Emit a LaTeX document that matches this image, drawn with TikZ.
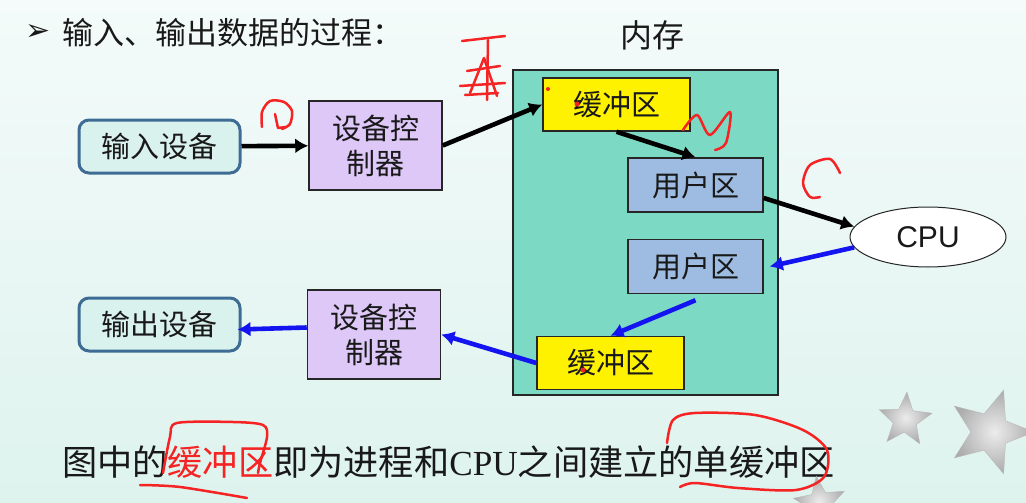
\documentclass[tikz,border=0pt]{standalone}
\usepackage{fontspec}
\setmainfont{Liberation Serif}
\newfontfamily\cjk{Noto Sans CJK SC}
\newfontfamily\arial{Liberation Sans}
\newfontfamily\symb{DejaVu Sans}
\usetikzlibrary{arrows.meta,positioning,shapes.geometric}
\definecolor{bgtop}{RGB}{244,251,250}
\definecolor{bgbottom}{RGB}{222,243,238}
\definecolor{memgreen}{RGB}{124,218,196}
\definecolor{bufyellow}{RGB}{255,242,0}
\definecolor{usrblue}{RGB}{158,188,225}
\definecolor{ctlviolet}{RGB}{221,200,248}
\definecolor{devfill}{RGB}{218,242,238}
\definecolor{devborder}{RGB}{62,108,148}
\definecolor{arrowblue}{RGB}{20,20,240}
\definecolor{inkred}{RGB}{245,35,35}
\definecolor{textdark}{RGB}{25,25,25}
\newcommand{\boxfont}{\cjk\fontsize{29}{35}\selectfont}

\begin{document}
\begin{tikzpicture}[x=1pt,y=-1pt,text=textdark,
      dev/.style={rectangle, rounded corners=10pt, draw=devborder, line width=3pt, fill=devfill,
                  minimum width=161pt, minimum height=53pt, inner sep=0pt, font=\boxfont},
      ctl/.style={rectangle, draw=black!85, line width=1.5pt, fill=ctlviolet, align=center,
                  minimum width=133pt, minimum height=89pt, inner sep=0pt, font=\boxfont},
      buf/.style={rectangle, draw=black!85, line width=1.5pt, fill=bufyellow,
                  minimum width=147pt, minimum height=53pt, inner sep=0pt, font=\boxfont},
      usr/.style={rectangle, draw=black!85, line width=1.5pt, fill=usrblue,
                  minimum width=135pt, minimum height=54pt, inner sep=0pt, font=\boxfont},
      blk/.style={-{Latex[length=13pt,width=15pt]}, line width=4.6pt, black},
      blu/.style={-{Latex[length=13pt,width=15pt]}, line width=4.6pt, arrowblue},
      ink/.style={inkred, line width=2.5pt, line cap=round, line join=round},
      deco/.style={star, star points=5, star point ratio=2.3, inner sep=0pt, draw=gray!55,
                   shading=radial, inner color=gray!15, outer color=gray!65}]
    \useasboundingbox (0,0) rectangle (1026,503);
    \shade[top color=bgtop, bottom color=bgbottom] (0,0) rectangle (1026,503);

    \node (bullet) at (38,33) {\symb\fontsize{30}{34}\selectfont ➢};
    \node[anchor=west, inner sep=0pt] (title) at (62,33) {\cjk\fontsize{31}{36}\selectfont 输入、输出数据的过程：};
    \node (memlbl) at (652,35) {\cjk\fontsize{32}{38}\selectfont 内存};

    \node[rectangle, draw=black!85, line width=1.5pt, fill=memgreen,
          minimum width=265pt, minimum height=325pt] (mem) at (645.5,232.5) {};
    \node[buf] (bufin) at (616.5,104.5) {缓冲区};
    \node[usr] (usr1) at (695.5,185) {用户区};
    \node[usr, below=26pt of usr1] (usr2) {用户区};
    \node[buf] (bufout) at (610.5,363) {缓冲区};

    \node[dev] (in) at (159.5,146.5) {输入设备};
    \node[ctl] (ctlin) at (375.5,145.5) {设备控\\制器};
    \node[dev, below=122pt of in] (out) {输出设备};
    \node[ctl] (ctlout) at (374,334.5) {设备控\\制器};

    \node[ellipse, draw=black!85, line width=1pt, fill=white, minimum width=156pt, minimum height=60pt,
          font=\arial\fontsize{30}{34}\selectfont] (cpu) at (928,237) {CPU};

    \draw[blk] (in) -- (ctlin);
    \draw[blk] (ctlin.east) -- (bufin.west);
    \draw[blk] (bufin.south) -- (usr1.north);
    \draw[blk] ([yshift=-13pt]usr1.east) -- (cpu.172);
    \draw[blu] (cpu.188) -- ([xshift=6pt]usr2.east);
    \draw[blu] ([yshift=-6pt]usr2.south) -- (bufout.north);
    \draw[blu] (bufout.west) -- (ctlout.east);
    \draw[blu] ([yshift=7pt]ctlout.west) -- ([yshift=-5pt,xshift=-4pt]out.east);

    \node[anchor=west, inner sep=0pt] (note) at (62,462)
      {\cjk\fontsize{35.2}{40}\selectfont 图中的\textcolor{inkred}{缓冲区}即为进程和{\rmfamily CPU}之间建立的单缓冲区};

    \node[deco, minimum size=56pt, rotate=-4] (star1) at (905,420) {};
    \node[deco, minimum size=88pt, rotate=-18] (star2) at (990,432) {};
    \node[deco, minimum size=54pt, rotate=8] (star3) at (820,503) {};

    \draw[ink] plot[smooth] coordinates {(262,127) (262,112) (270,101) (284,102) (292,111) (290,124) (282,129)};
    \draw[ink] (275,114) -- (278,128) -- (286,127);
    \draw[ink] (462,41) -- (505,36);
    \draw[ink] (488,40) -- (487,100);
    \draw[ink] (467,71) -- (500,66);
    \draw[ink] (460,86) -- (505,83);
    \draw[ink] (465,95) -- (498,93);
    \draw[ink] (470,93) -- (484,58) -- (497,96);
    \draw[ink] plot[smooth] coordinates {(683,130) (697,115) (710,135) (730,112) (726,143) (715,150)};
    \draw[ink] plot[smooth] coordinates {(840,173) (830,159) (810,165) (803,183) (810,197) (820,197)};
    \draw[ink] plot[smooth] coordinates {(163,473) (170,437) (177,423) (233,422) (263,425) (267,437) (260,463) (258,473)};
    \draw[ink] plot[smooth] coordinates {(140,485) (180,487) (247,498)};
    \draw[ink] plot[smooth] coordinates {(667,443) (673,420) (695,413) (755,415) (803,430) (827,450)
                                         (824,477) (796,490) (738,488) (695,483) (680,487)};
    \fill[inkred] (548,89) circle (2pt) (577,104) circle (2.5pt) (583,370) circle (2.5pt);
\end{tikzpicture}
\end{document}
